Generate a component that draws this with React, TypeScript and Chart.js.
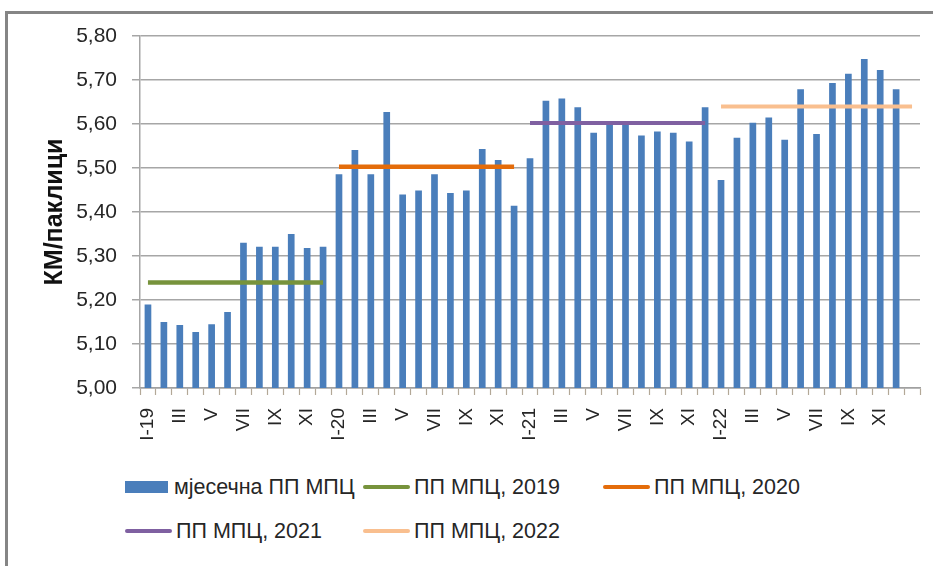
import React, { useEffect, useRef } from 'react';
import { Chart, registerables } from 'chart.js';

Chart.register(...registerables);

// ---- data ----
const monthLabels = [
  'I-19', 'II', 'III', 'IV', 'V', 'VI', 'VII', 'VIII', 'IX', 'X', 'XI', 'XII',
  'I-20', 'II', 'III', 'IV', 'V', 'VI', 'VII', 'VIII', 'IX', 'X', 'XI', 'XII',
  'I-21', 'II', 'III', 'IV', 'V', 'VI', 'VII', 'VIII', 'IX', 'X', 'XI', 'XII',
  'I-22', 'II', 'III', 'IV', 'V', 'VI', 'VII', 'VIII', 'IX', 'X', 'XI', 'XII',
  '',
];

const monthlyPrices = [
  5.19, 5.15, 5.143, 5.127, 5.145, 5.173, 5.33, 5.321, 5.321, 5.35, 5.318, 5.321,
  5.486, 5.541, 5.486, 5.627, 5.44, 5.449, 5.486, 5.443, 5.449, 5.543, 5.518, 5.414,
  5.522, 5.653, 5.658, 5.638, 5.58, 5.598, 5.598, 5.574, 5.583, 5.58, 5.56, 5.638,
  5.473, 5.569, 5.603, 5.615, 5.564, 5.679, 5.577, 5.693, 5.714, 5.748, 5.723, 5.679,
];

const yearNames = ['2019', '2020', '2021', '2022'];
const yearAverages = [5.24, 5.503, 5.602, 5.64];
const yearFirstIndex = [0, 12, 24, 36];
const yearLastIndex = [11, 23, 35, 48];

const barLabel = 'мјесечна ПП МПЦ';
const lineLabelPrefix = 'ПП МПЦ, ';
const yAxisTitle = 'КМ/паклици';
const yMin = 5.0;
const yMax = 5.8;
const yStep = 0.1;

// ---- styles ----
const barColor = '#4a7ebb';
const yearColors = ['#77933c', '#e46c0a', '#7f60a1', '#f9bf8f'];
const yearLineWidths = [4.5, 4.5, 4, 4];
const FONT = "'Liberation Sans', Arial, sans-serif";
const TEXT = '#262626';

const lineData = (k: number) =>
  monthLabels.map((_, i) =>
    i >= yearFirstIndex[k] && i <= yearLastIndex[k] ? yearAverages[k] : null
  );

export default function App() {
  const ref = useRef<HTMLCanvasElement | null>(null);

  useEffect(() => {
    document.documentElement.style.overflow = 'hidden';
    document.body.style.overflow = 'hidden';
    document.body.style.margin = '0';
    if (!ref.current) return;
    const datasets: any[] = [
      {
        type: 'bar',
        label: barLabel,
        data: monthlyPrices,
        backgroundColor: barColor,
        borderWidth: 0,
        categoryPercentage: 1,
        barPercentage: 0.42,
        order: 2,
      },
      ...yearNames.map((y, k) => ({
        type: 'line',
        label: lineLabelPrefix + y,
        data: lineData(k),
        borderColor: yearColors[k],
        backgroundColor: yearColors[k],
        borderWidth: yearLineWidths[k],
        pointRadius: 0,
        spanGaps: false,
        fill: false,
        order: 1,
      })),
    ];

    const chart = new Chart(ref.current, {
      type: 'bar',
      data: { labels: monthLabels, datasets },
      options: {
        animation: false,
        responsive: false,
        events: [],
        layout: { padding: { top: 36, right: 13, left: 0, bottom: 0 } },
        plugins: {
          legend: { display: false },
          tooltip: { enabled: false },
          title: { display: false },
        },
        scales: {
          x: {
            offset: true,
            grid: {
              offset: true,
              drawOnChartArea: false,
              drawTicks: true,
              tickLength: 7,
              tickColor: '#b3a897',
              tickWidth: 1.2,
            },
            border: { display: true, color: '#a0a0a0', width: 1.5 },
            ticks: {
              autoSkip: false,
              maxRotation: 90,
              minRotation: 90,
              padding: 13,
              color: TEXT,
              font: { family: FONT, size: 19 },
              callback: (_v: any, i: number) => (i % 2 === 0 ? monthLabels[i] : ''),
            },
            afterFit: (scale: any) => {
              scale.height = 460 - 388;
              scale.paddingLeft = 0;
              scale.paddingRight = 0;
            },
          },
          y: {
            min: yMin,
            max: yMax,
            grid: {
              color: '#a6a6a6',
              lineWidth: 1.5,
              tickLength: 8,
              drawTicks: true,
            },
            border: { display: true, color: '#a6a6a6', width: 1.5 },
            ticks: {
              stepSize: yStep,
              padding: 15,
              color: TEXT,
              font: { family: FONT, size: 21 },
              callback: (v: any) => Number(v).toFixed(2).replace('.', ','),
            },
            title: {
              display: true,
              text: yAxisTitle,
              color: '#111',
              font: { family: FONT, size: 25, weight: 'bold' },
              padding: { top: 40, bottom: 0 },
            },
            afterFit: (scale: any) => {
              scale.width = 140;
              scale.paddingTop = 0;
              scale.paddingBottom = 0;
            },
          },
        },
      } as any,
    });
    return () => chart.destroy();
  }, []);

  const legendItems = [
    { label: barLabel, color: barColor, kind: 'box', col: 0, row: 0 },
    ...yearNames.map((y, k) => ({
      label: lineLabelPrefix + y,
      color: yearColors[k],
      kind: 'line',
      col: [1, 2, 0, 1][k],
      row: [0, 0, 1, 1][k],
    })),
  ];
  const colX = [125, 363, 603];
  const rowY = [487, 531];

  return (
    <div
      style={{
        position: 'fixed',
        left: 0,
        top: 0,
        width: 933,
        height: 566,
        overflow: 'hidden',
        background: '#fff',
      }}
    >
      <div
        style={{
          position: 'absolute',
          left: 5,
          top: 11,
          width: 1000,
          height: 700,
          borderLeft: '3px solid #858585',
          borderTop: '3px solid #858585',
          boxSizing: 'border-box',
        }}
      />
      <canvas
        ref={ref}
        width={933}
        height={460}
        style={{ position: 'absolute', left: 0, top: 0, width: 933, height: 460 }}
      />
      {legendItems.map((it, i) => (
        <div
          key={i}
          style={{
            position: 'absolute',
            left: colX[it.col],
            top: rowY[it.row] - 14,
            height: 28,
            display: 'flex',
            alignItems: 'center',
            whiteSpace: 'nowrap',
            fontFamily: FONT,
            fontSize: 21.5,
            color: TEXT,
          }}
        >
          <span
            style={{
              display: 'inline-block',
              width: it.kind === 'box' ? 43 : 47,
              height: it.kind === 'box' ? 12 : 4,
              background: it.color,
              marginRight: it.kind === 'box' ? 6 : 4,
              borderRadius: it.kind === 'box' ? 0 : 2,
            }}
          />
          <span>{it.label}</span>
        </div>
      ))}
    </div>
  );
}
